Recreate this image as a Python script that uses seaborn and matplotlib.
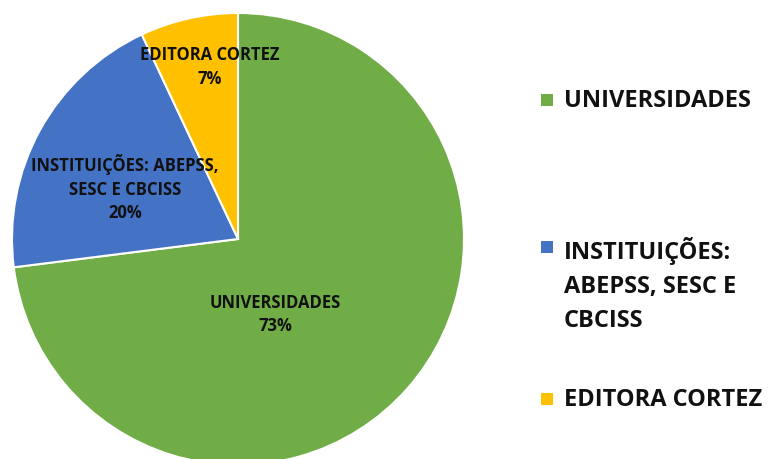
import matplotlib
matplotlib.use("Agg")
import matplotlib.pyplot as plt
import seaborn as sns
from matplotlib.patches import Rectangle

categories = ["UNIVERSIDADES", "INSTITUIÇÕES: ABEPSS,\nSESC E CBCISS", "EDITORA CORTEZ"]
legend_labels = ["UNIVERSIDADES", "INSTITUIÇÕES:\nABEPSS, SESC E\nCBCISS", "EDITORA CORTEZ"]
values = [73, 20, 7]
colors = ["#70AD47", "#4472C4", "#FFC000"]

sns.set_theme(style="white")
plt.rcParams['font.family'] = ['Open Sans', 'DejaVu Sans']

W, H = 775, 460
fig = plt.figure(figsize=(W / 100, H / 100), dpi=100)
cx, cy, r = 238, 240, 226
ax = fig.add_axes([(cx - r) / W, (H - (cy + r)) / H, 2 * r / W, 2 * r / H])
wedges, _ = ax.pie(values, colors=colors, startangle=90, counterclock=False,
                   wedgeprops=dict(edgecolor="white", linewidth=1.5))
ax.set_xlim(-1, 1)
ax.set_ylim(-1, 1)
ax.set_aspect("equal")
ax.axis("off")

label_pos = [(0.165, -0.33), (-0.50, 0.23), (-0.125, 0.765)]
for cat, v, (x, y) in zip(categories, values, label_pos):
    ax.text(x, y, f"{cat}\n{v}%", ha="center", va="center", fontsize=12,
            fontweight="bold", color="#111111", linespacing=1.4)

# legend drawn manually to match irregular spacing
legend_y = [101, 285, 400]
marker_y = [101, 248, 400]
for lab, col, y, my in zip(legend_labels, colors, legend_y, marker_y):
    fig.patches.append(Rectangle((541 / W, (H - my - 6) / H), 12 / W, 12 / H,
                                 transform=fig.transFigure, facecolor=col,
                                 edgecolor="none"))
    fig.text(564 / W, (H - y) / H, lab, ha="left", va="center", fontsize=17,
             fontweight="bold", color="#111111", linespacing=1.57)

fig.savefig("out.png", dpi=100)
